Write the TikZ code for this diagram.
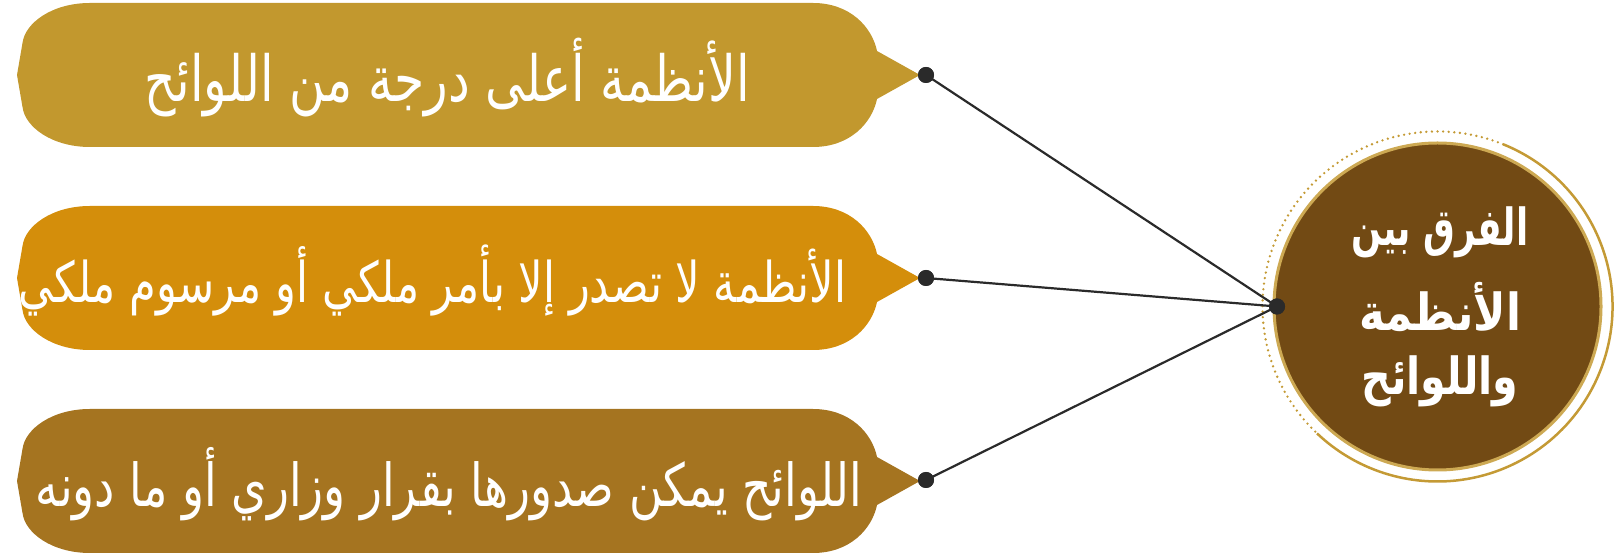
\documentclass[tikz,border=0pt]{standalone}
\usepackage{fontspec}
\usepackage{graphicx}
\TeXXeTstate=1
\newfontfamily\arabicfont[Script=Arabic]{DejaVu Sans}
\definecolor{boxA}{HTML}{C2982E}
\definecolor{boxB}{HTML}{D48E0B}
\definecolor{boxC}{HTML}{A57420}
\definecolor{core}{HTML}{724A14}
\definecolor{ring}{HTML}{C49A35}
\definecolor{wire}{HTML}{2A2A2A}
\newcommand\bubblepath[2]{%
  \fill[#2] (90,#1+72) -- (813,#1+72) .. controls (850,#1+72) and (872,#1+48) .. (877,#1+24)
    -- (920,#1) -- (877,#1-24) .. controls (872,#1-48) and (850,#1-72) .. (813,#1-72)
    -- (90,#1-72) .. controls (52,#1-72) and (25,#1-52) .. (22.5,#1-32) -- (17,#1)
    -- (22.5,#1+32) .. controls (25,#1+52) and (52,#1+72) .. (90,#1+72) -- cycle;}
\newcommand\fitline[2]{\resizebox{#1}{!}{\scalebox{1}[1.3]{#2}}}
\newcommand\coreline[2]{\resizebox{#1}{\height}{\scalebox{1}[1.38]{#2}}}
\begin{document}
\begin{tikzpicture}[x=1pt,y=1pt,
  pin/.style={circle,fill=wire,inner sep=0pt,minimum size=16pt},
  wireline/.style={draw=wire,line width=2.2pt},
  boxtext/.style={text=white,inner sep=0pt,font=\arabicfont},
  coretext/.style={text=white,inner sep=0pt,font=\arabicfont\bfseries\fontsize{37}{44}\selectfont}]
\useasboundingbox (0,0) rectangle (1622,556);
% bubbles
\bubblepath{481}{boxA}
\bubblepath{278}{boxB}
\bubblepath{75}{boxC}
\node[boxtext] (t1) at (447.5,478) {\fitline{605pt}{\beginR الأنظمة أعلى درجة من اللوائح\endR}};
\node[boxtext] (t2) at (432.5,275) {\fitline{827pt}{\beginR الأنظمة لا تصدر إلا بأمر ملكي أو مرسوم ملكي\endR}};
\node[boxtext] (t3) at (449,72) {\fitline{826pt}{\beginR اللوائح يمكن صدورها بقرار وزاري أو ما دونه\endR}};
% circle
\fill[core] (1437.5,249.5) circle (163.5);
\draw[ring!85!white,line width=3pt] (1437.5,249.5) circle (163.5);
\draw[ring,line width=2.5pt] (1437.5,249.5) ++(68:175) arc (68:-133.5:175);
\draw[ring,line width=2.6pt,line cap=round,dash pattern=on 0pt off 5.6pt] (1437.5,249.5) ++(68:175) arc (68:226.5:175);
\node[coretext] (c1) at (1440,324) {\coreline{177pt}{\beginR الفرق بين\endR}};
\node[coretext] (c2) at (1440,249) {\coreline{162pt}{\beginR الأنظمة\endR}};
\node[coretext] (c3) at (1440,175) {\coreline{157pt}{\beginR واللوائح\endR}};
% pins and wires
\node[pin] (p0) at (1277,249.5) {};
\node[pin] (p1) at (926,481) {};
\node[pin] (p2) at (926,278) {};
\node[pin] (p3) at (926,76) {};
\draw[wireline] (p1.center) -- (p0.center);
\draw[wireline] (p2.center) -- (p0.center);
\draw[wireline] (p3.center) -- (p0.center);
\node[pin] at (p0) {};
\node[pin] at (p1) {};
\node[pin] at (p2) {};
\node[pin] at (p3) {};
\end{tikzpicture}
\end{document}
